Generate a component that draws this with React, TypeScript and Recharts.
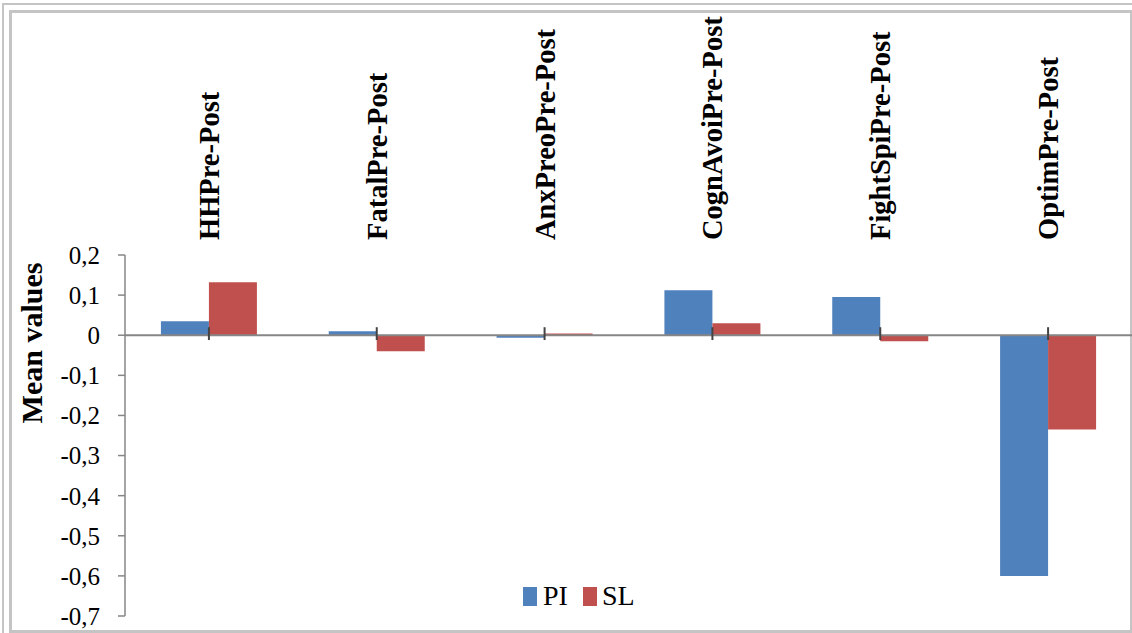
import React from 'react';
import { BarChart, Bar, XAxis, YAxis, ReferenceLine } from 'recharts';

const categories = ['HHPre-Post', 'FatalPre-Post', 'AnxPreoPre-Post', 'CognAvoiPre-Post', 'FightSpiPre-Post', 'OptimPre-Post'];
const piValues = [0.035, 0.01, -0.006, 0.112, 0.095, -0.6];
const slValues = [0.132, -0.04, 0.004, 0.03, -0.015, -0.235];
const yTicks = [0.2, 0.1, 0, -0.1, -0.2, -0.3, -0.4, -0.5, -0.6, -0.7];

const PI_COLOR = '#4F81BD';
const SL_COLOR = '#C0504D';
const FONT = '"Liberation Serif", "Times New Roman", serif';

const data = categories.map((name, i) => ({ name, PI: piValues[i], SL: slValues[i] }));

const CategoryTick = (props: any) => {
  const { x, payload } = props;
  const y = 240;
  return (
    <text
      x={x}
      y={y}
      dy="0.35em"
      transform={`rotate(-90, ${x}, ${y})`}
      textAnchor="start"
      fontFamily={FONT}
      fontWeight="bold"
      fontSize={28.5}
      fill="#000"
    >
      {payload.value}
    </text>
  );
};

const App: React.FC = () => {
  return (
    <div style={{ position: 'absolute', left: 0, top: 0, width: 1132, height: 633, background: '#fff', overflow: 'hidden' }}>
      <div style={{ position: 'absolute', left: 2, top: 3, width: 1140, height: 640, border: '2px solid #c4c4c4' }} />
      <div style={{ position: 'absolute', left: 9, top: 10, width: 1118, height: 617, border: '3px solid #c4c4c4' }} />
      <div style={{ position: 'absolute', left: 0, top: 0 }}>
        <BarChart
          width={1132}
          height={633}
          data={data}
          margin={{ top: 0, right: 0, bottom: 17, left: 0 }}
          barCategoryGap="21.4%"
          barGap={0}
        >
          <XAxis
            dataKey="name"
            orientation="top"
            height={255}
            axisLine={false}
            tickLine={false}
            tick={<CategoryTick />}
            interval={0}
          />
          <YAxis
            width={125}
            domain={[-0.7, 0.2]}
            ticks={yTicks}
            interval={0}
            allowDataOverflow
            axisLine={{ stroke: '#868686', strokeWidth: 1.5 }}
            tickLine={{ stroke: '#868686', strokeWidth: 1.5 }}
            tickSize={7}
            tickMargin={18}
            tick={{ fontFamily: FONT, fontSize: 25, fill: '#000' }}
            tickFormatter={(v: number) => String(v).replace('.', ',')}
            label={{
              content: () => (
                <text
                  x={31}
                  y={343}
                  dy="0.35em"
                  transform="rotate(-90, 31, 343)"
                  textAnchor="middle"
                  fontFamily={FONT}
                  fontWeight="bold"
                  fontSize={30}
                  fill="#000"
                >
                  Mean values
                </text>
              ),
            }}
          />
          <ReferenceLine y={0} stroke="#868686" strokeWidth={2} />
          <Bar dataKey="PI" fill={PI_COLOR} isAnimationActive={false} />
          <Bar dataKey="SL" fill={SL_COLOR} isAnimationActive={false} />
          {categories.map((c) => (
            <ReferenceLine
              key={c}
              segment={[{ x: c, y: 0.02 }, { x: c, y: -0.012 }]}
              stroke="#444"
              strokeWidth={2}
              zIndex={1000}
            />
          ))}
        </BarChart>
      </div>
      <div
        style={{
          position: 'absolute',
          left: 523,
          top: 580,
          display: 'flex',
          alignItems: 'center',
          fontFamily: FONT,
          fontSize: 28,
          color: '#000',
        }}
      >
        <span style={{ display: 'inline-block', width: 14, height: 19, background: PI_COLOR, marginRight: 6 }} />
        <span style={{ marginRight: 15 }}>PI</span>
        <span style={{ display: 'inline-block', width: 14, height: 19, background: SL_COLOR, marginRight: 5 }} />
        <span>SL</span>
      </div>
    </div>
  );
};

export default App;
